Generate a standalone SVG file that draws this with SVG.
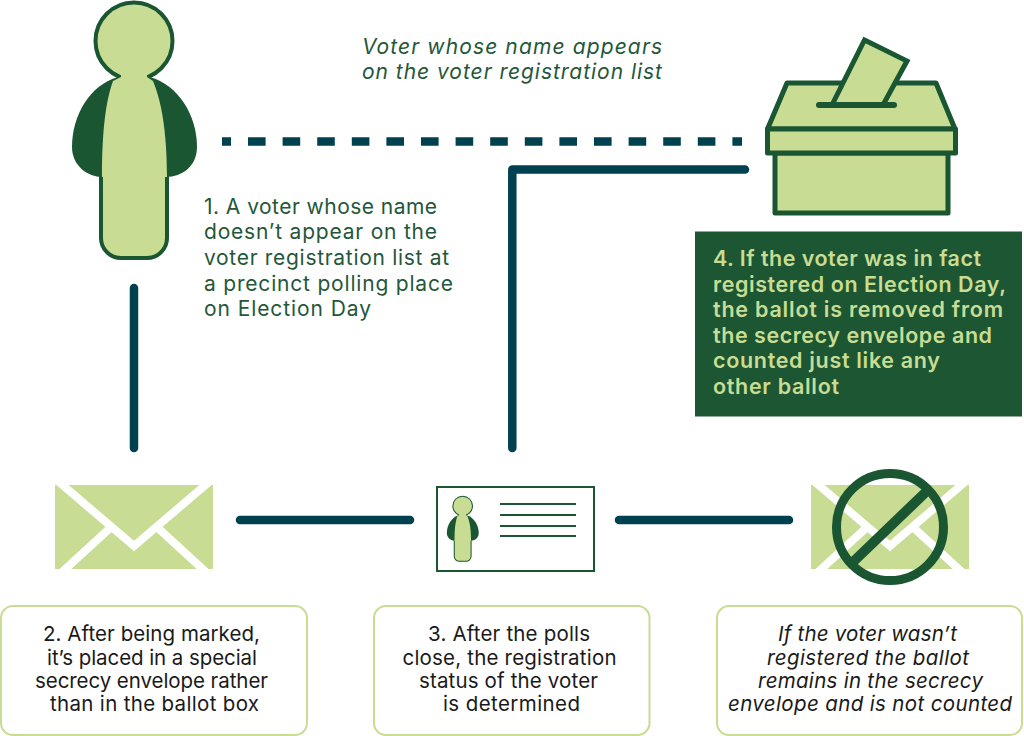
<svg xmlns="http://www.w3.org/2000/svg" width="1024" height="736" viewBox="0 0 1024 736">
<style>
text{font-family:"Inter","Open Sans","Liberation Sans",sans-serif;font-size:21px}
.g{fill:#24573a}.k{fill:#1a1a1a}.k text{font-size:20.500px}.l{fill:#c8dc94;font-weight:600}.l text{font-size:21.500px}.i{font-style:italic}
.c{fill:none;stroke:#00414f;stroke-width:8.500;stroke-linecap:round;stroke-linejoin:round}
.b{fill:#c8dc94;stroke:#1a5632;stroke-width:5;stroke-linejoin:round}
.box{fill:#fff;stroke:#c8dc94;stroke-width:2}
.w{stroke:#fff;stroke-width:8;fill:none}
.d{stroke:#1a5632;fill:none}
</style>
<defs>
<clipPath id="ec"><rect x="0" y="0" width="158" height="84"/></clipPath>
<g id="env">
<rect width="158" height="84" fill="#c8dc94"/>
<g clip-path="url(#ec)"><path class="w" d="M4,-3L79,61L154,-3M6,88L54,44M152,88L104,44"/></g>
</g>
<g id="person">
<path fill="#1a5632" d="M118,77C90,85 72,115 72,147C72,166 88,177 102,177H166C182,177 197,166 197,147C197,115 178,85 150,77Z"/>
<path d="M101,174V238a20,20 0 0 0 20,20H147a20,20 0 0 0 20,-20V174" fill="#c8dc94" stroke="#1a5632" stroke-width="4"/>
<circle cx="134" cy="41" r="38.500" fill="#c8dc94" stroke="#1a5632" stroke-width="4"/>
<path fill="#c8dc94" d="M121,72H147V77L153,81C161,100 167,130 167,177H102C102,130 106,100 113,81L121,77Z"/>
</g>
</defs>
<g id="connectors">
<path class="c" style="stroke-linecap:butt;stroke-dasharray:17.600 17;stroke-dashoffset:8.600" d="M222,141.500H742"/>
<path class="c" d="M512.300,448V169.500H745"/>
<path class="c" d="M134,288V448"/>
<path class="c" d="M240,520H410"/>
<path class="c" d="M619,520H789"/>
</g>
<g id="voter"><use href="#person"/></g>
<g id="ballot-box">
<path class="b" d="M787,83H936L955,129H767.500Z"/>
<path class="b" style="stroke-linejoin:miter" d="M864.500,40L907,61L883,105H832Z"/>
<path d="M819,105H894" stroke="#1a5632" stroke-width="6" stroke-linecap="round"/>
<rect class="b" x="775" y="153" width="173" height="60"/>
<rect class="b" x="767.500" y="129" width="188" height="24"/>
</g>
<g id="envelope"><use href="#env" x="55" y="485"/></g>
<g id="id-card">
<rect x="437" y="487" width="157" height="84" fill="#fff" stroke="#1a5632" stroke-width="2"/>
<use href="#person" transform="translate(428.500,495.500) scale(.255)"/>
<path class="d" stroke-width="2" d="M500,504H576M500,515H576M500,526H576M500,536H576"/>
</g>
<g id="rejected-envelope">
<use href="#env" x="811" y="485"/>
<circle class="d" cx="890" cy="527" r="53.500" stroke-width="9"/>
<path class="d" stroke-width="10" d="M928,490L853,562"/>
</g>
<g id="top-label" class="g i">
<text x="362" y="53.500" textLength="300">Voter whose name appears</text>
<text x="362" y="79" textLength="300">on the voter registration list</text>
</g>
<g id="step1" class="g">
<text x="204" y="213.500" textLength="233">1. A voter whose name</text>
<text x="204" y="239" textLength="233">doesn’t appear on the</text>
<text x="204" y="265" textLength="245">voter registration list at</text>
<text x="204" y="290.500" textLength="249">a precinct polling place</text>
<text x="204" y="316" textLength="167">on Election Day</text>
</g>
<g id="step4">
<rect x="695" y="231.500" width="327" height="185" fill="#1c5632"/>
<g class="l">
<text x="713" y="266" textLength="268">4. If the voter was in fact</text>
<text x="713" y="292" textLength="293">registered on Election Day,</text>
<text x="713" y="317" textLength="290">the ballot is removed from</text>
<text x="713" y="343" textLength="279">the secrecy envelope and</text>
<text x="713" y="368" textLength="227">counted just like any</text>
<text x="713" y="394" textLength="126">other ballot</text>
</g>
</g>
<g id="step2">
<rect class="box" x="1" y="606" width="306" height="129" rx="12"/>
<g class="k">
<text x="43" y="641" textLength="217">2. After being marked,</text>
<text x="47" y="664.500" textLength="210">it’s placed in a special</text>
<text x="35" y="688" textLength="233">secrecy envelope rather</text>
<text x="50" y="711" textLength="209">than in the ballot box</text>
</g>
</g>
<g id="step3">
<rect class="box" x="374" y="606" width="275.500" height="129" rx="12"/>
<g class="k">
<text x="428" y="641" textLength="162">3. After the polls</text>
<text x="402.500" y="664.500" textLength="214">close, the registration</text>
<text x="419" y="688" textLength="179">status of the voter</text>
<text x="443" y="711" textLength="137">is determined</text>
</g>
</g>
<g id="not-counted">
<rect class="box" x="717" y="606" width="305" height="129" rx="12"/>
<g class="k i">
<text x="778" y="641" textLength="179">If the voter wasn’t</text>
<text x="767" y="664.500" textLength="202">registered the ballot</text>
<text x="758" y="688" textLength="225">remains in the secrecy</text>
<text x="728" y="711" textLength="284">envelope and is not counted</text>
</g>
</g>
</svg>
